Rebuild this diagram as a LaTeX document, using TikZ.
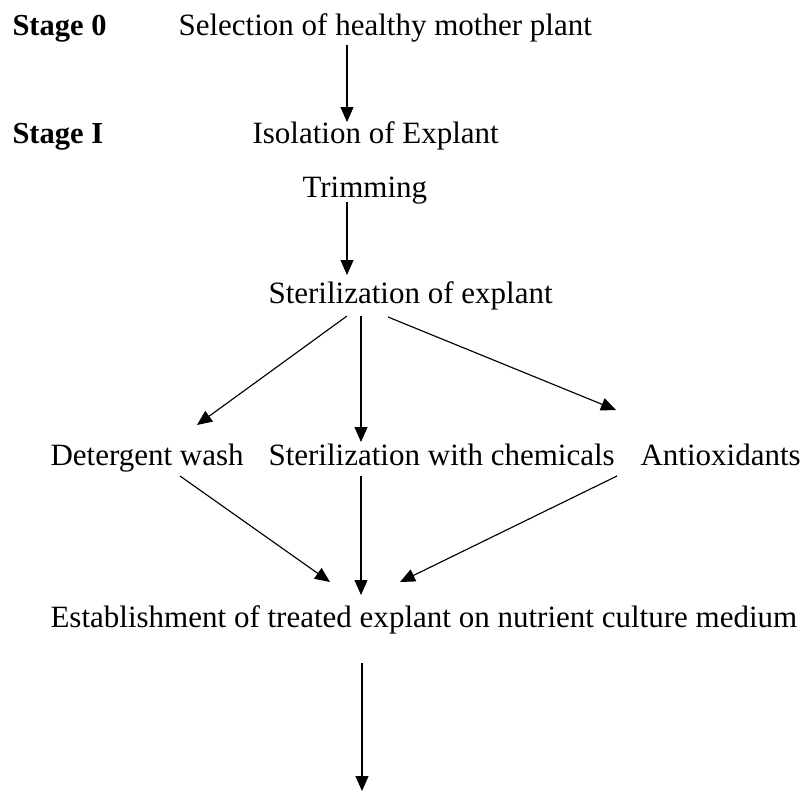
\documentclass[tikz,border=0pt]{standalone}
\usepackage{fontspec}
\setmainfont{Liberation Serif}
\usetikzlibrary{calc,arrows.meta}

\begin{document}
\begin{tikzpicture}[x=0.3934pt,y=-0.3934pt]

      \useasboundingbox (0,0) rectangle (803,792);

      \begin{scope}[every node/.style={anchor=base west, inner sep=0pt, font=\fontsize{12.2}{14}\selectfont}]
        \node[font=\fontsize{12}{14}\selectfont\bfseries] (s0) at (12,35)  {Stage 0};
        \node[font=\fontsize{12}{14}\selectfont\bfseries] (s1) at (12,143) {Stage I};
        \node (sel)  at (178,35)  {Selection of healthy mother plant};
        \node (iso)  at (252,143) {Isolation of Explant};
        \node (trim) at (302,197) {Trimming};
        \node (ster) at (268,303) {Sterilization of explant};
        \node (det)  at (50,465)  {Detergent wash};
        \node (chem) at (268,465) {Sterilization with chemicals};
        \node (anti) at (640,465) {Antioxidants};
        \node (est)  at (50,627)  {Establishment of treated explant on nutrient culture medium};
        \coordinate (next) at (362,791);
      \end{scope}

      \begin{scope}[every path/.style={draw, line width=0.45pt, -{Triangle[length=5.9pt,width=5.1pt]}}]
        \path ($(sel.base west)+(169,10)$)   -- ($(iso.base west)+(95,-21)$);
        \path ($(trim.base west)+(45,5)$)    -- ($(ster.base west)+(79,-28)$);
        \path ($(ster.base west)+(79,13)$)   -- ($(det.base west)+(147,-40)$);
        \path ($(ster.base west)+(93,13)$)   -- ($(chem.base west)+(93,-23)$);
        \path ($(ster.base west)+(120,14)$)  -- ($(anti.base west)+(-24,-55)$);
        \path ($(det.base west)+(130,11)$)   -- ($(est.base west)+(280,-45)$);
        \path ($(chem.base west)+(93,11)$)   -- ($(est.base west)+(311,-32)$);
        \path ($(anti.base west)+(-23,11)$)  -- ($(est.base west)+(350,-45)$);
        \path ($(est.base west)+(312,36)$)   -- (next);
      \end{scope}

    \end{tikzpicture}
\end{document}
